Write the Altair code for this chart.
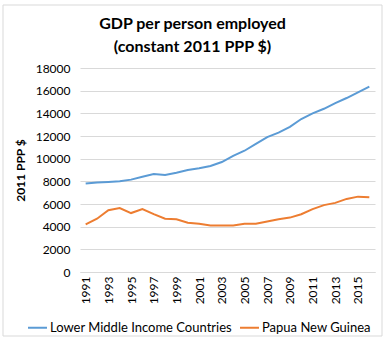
import altair as alt
import pandas as pd

years = list(range(1991, 2017))
lmic = [7800, 7900, 7950, 8000, 8150, 8400, 8650, 8550, 8750, 9000, 9150, 9350, 9700,
        10250, 10700, 11300, 11900, 12300, 12800, 13500, 14000, 14400, 14900, 15350, 15850, 16350]
png = [4200, 4700, 5450, 5650, 5200, 5550, 5100, 4700, 4650, 4350, 4250, 4100, 4100,
       4100, 4250, 4250, 4450, 4650, 4800, 5100, 5550, 5900, 6100, 6450, 6650, 6600]
series = ["Lower Middle Income Countries", "Papua New Guinea"]

rows = []
for y, a, b in zip(years, lmic, png):
    rows.append({"Year": str(y), "Value": a, "Series": series[0]})
    rows.append({"Year": str(y), "Value": b, "Series": series[1]})
df = pd.DataFrame(rows)

FONT = "Lato"

lines = alt.Chart(df).mark_line(strokeWidth=2).encode(
    x=alt.X("Year:O", title=None, scale=alt.Scale(paddingOuter=0.5),
            axis=alt.Axis(labelAngle=-90, labelExpr="(toNumber(datum.value) - 1991) % 2 == 0 ? datum.value : ''",
                          ticks=False, domainColor="#d9d9d9", labelFontSize=12, labelColor="#000",
                          labelFont=FONT, labelPadding=4, grid=False)),
    y=alt.Y("Value:Q", title="2011 PPP $", scale=alt.Scale(domain=[0, 18000]),
            axis=alt.Axis(values=list(range(0, 18001, 2000)), format="d", domain=False, ticks=False,
                          gridColor="#d9d9d9", labelFontSize=12, labelColor="#000", labelFont=FONT,
                          labelPadding=10, titleFont=FONT, titleFontSize=12, titleFontWeight="bold",
                          titleColor="#000", titlePadding=8)),
    color=alt.Color("Series:N", sort=series,
                    scale=alt.Scale(domain=series, range=["#5b9bd5", "#ed7d31"]),
                    legend=alt.Legend(orient="none", legendX=-53, legendY=249, direction="horizontal",
                                      title=None, symbolType="stroke",
                                      symbolStrokeWidth=2, symbolSize=360, labelFont=FONT,
                                      labelFontSize=13, labelColor="#000", columnPadding=4,
                                      labelOffset=2, labelLimit=300)),
)

border = alt.Chart(pd.DataFrame({"a": [0]})).mark_rect(
    fill=None, stroke="#d9d9d9", strokeWidth=1, clip=False
).encode(x=alt.value(-77), x2=alt.value(302), y=alt.value(-63), y2=alt.value(268))

chart = alt.layer(border, lines).properties(
    width=295, height=204,
    autosize=alt.AutoSizeParams(type="none"),
    padding={"left": 80, "top": 68, "right": 12, "bottom": 67},
    title=alt.TitleParams(["GDP per person employed", "(constant 2011 PPP $)"], font=FONT,
                          fontSize=16, fontWeight="bold", color="#000", anchor="middle",
                          lineHeight=23, offset=-50, frame="bounds"),
).configure_view(stroke=None)

chart.save("out.html", embed_options={"renderer": "svg", "actions": False})
